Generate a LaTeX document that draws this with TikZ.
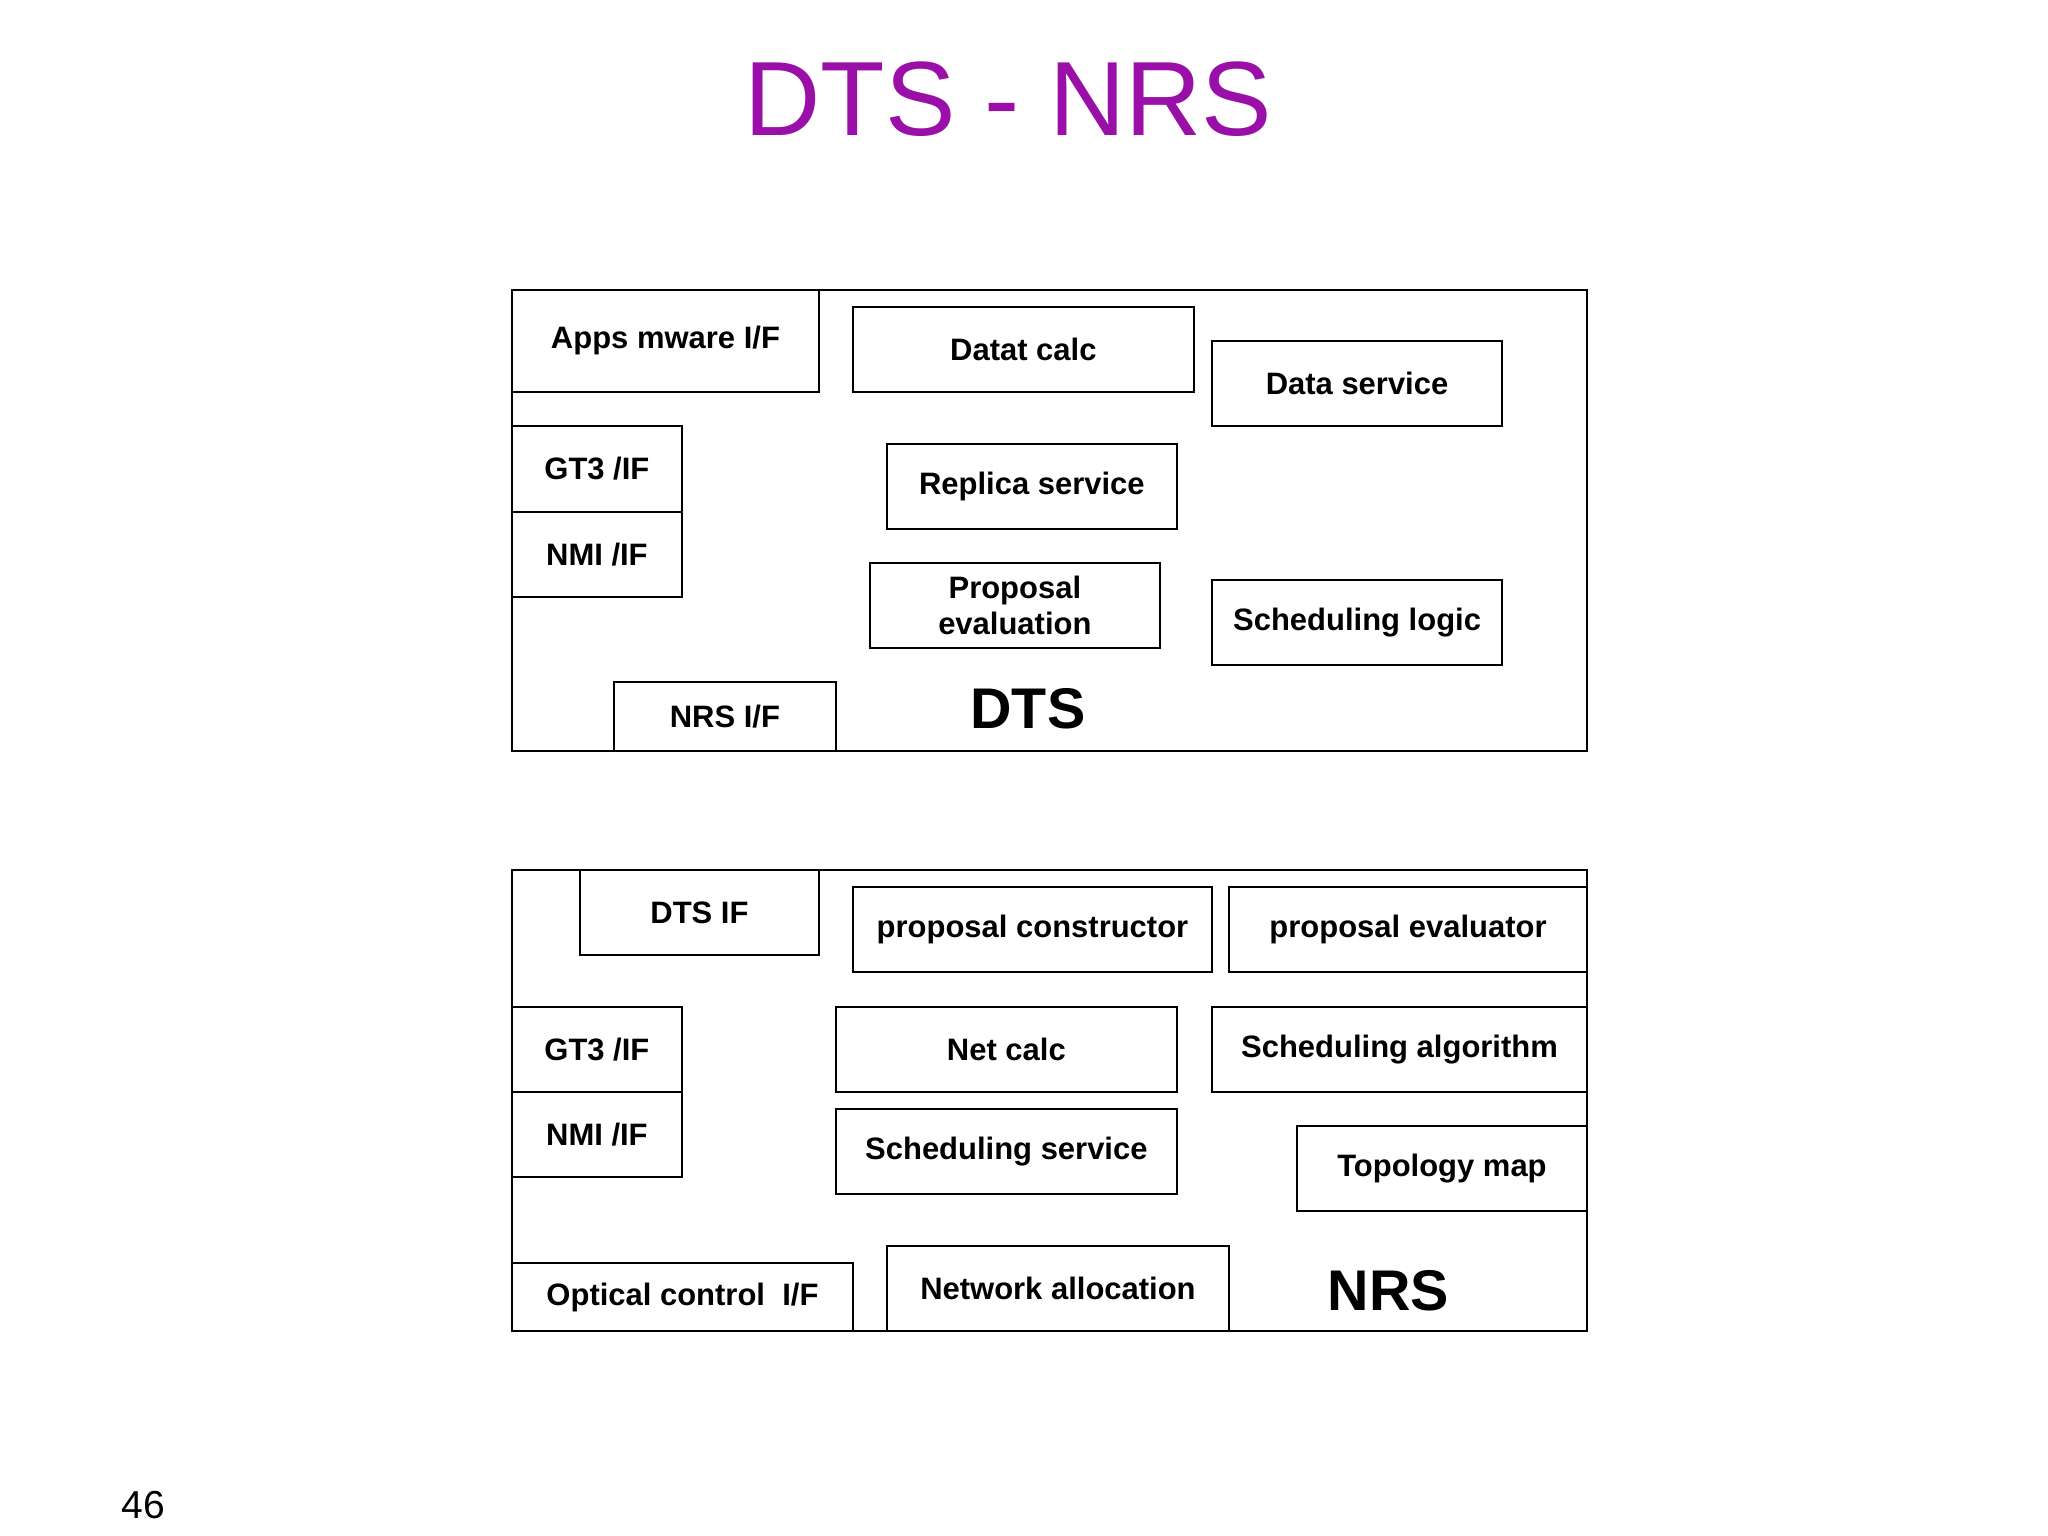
\documentclass[tikz,border=0pt]{standalone}
\usepackage{fontspec}
\setmainfont{Liberation Sans}
\newfontfamily\titlefont{Liberation Sans}
\definecolor{ttl}{HTML}{9A0FA8}
\tikzset{box/.style={draw,line width=0.9pt,inner sep=0pt,align=center,font=\fontsize{13.5}{16}\selectfont\bfseries},
 big/.style={font=\fontsize{25}{30}\selectfont\bfseries}}
\newcommand{\bx}[6]{\node[box,minimum width={(#4-#2)*0.02cm},minimum height={(#5-#3)*0.02cm}] (#1) at ({(#2+#4)/2},{(#3+#5)/2}) {#6};}
\begin{document}
\begin{tikzpicture}[x=0.02cm,y=-0.02cm]
\useasboundingbox (0,0) rectangle (1568,1176);
\node[text=ttl,font=\fontsize{46}{50}\selectfont] (title) at (772,76) {DTS - NRS};
\bx{dts}{392}{222}{1215}{575}{}
\bx{apps}{392}{222}{627}{300}{Apps mware I/F}
\bx{dcalc}{653}{235}{914}{300}{Datat calc}
\bx{dserv}{928}{261}{1150}{326}{Data service}
\bx{gta}{392}{326}{522}{392}{GT3 /IF}
\bx{nmia}{392}{392}{522}{457}{NMI /IF}
\bx{repl}{679}{340}{901}{405}{Replica service}
\bx{prop}{666}{431}{888}{496}{Proposal\\evaluation}
\bx{slog}{928}{444}{1150}{509}{Scheduling logic}
\bx{nrsif}{470}{522}{640}{575}{NRS I/F}
\node[big] (dtsl) at (787,543) {DTS};
\bx{nrs}{392}{666}{1215}{1019}{}
\bx{dtsif}{444}{666}{627}{731}{DTS IF}
\bx{pcon}{653}{679}{928}{744}{proposal constructor}
\bx{pev}{941}{679}{1215}{744}{proposal evaluator}
\bx{gtb}{392}{771}{522}{836}{GT3 /IF}
\bx{nmib}{392}{836}{522}{901}{NMI /IF}
\bx{ncalc}{640}{771}{901}{836}{Net calc}
\bx{salg}{928}{771}{1215}{836}{Scheduling algorithm}
\bx{sserv}{640}{849}{901}{914}{Scheduling service}
\bx{topo}{993}{862}{1215}{927}{Topology map}
\bx{opt}{392}{967}{653}{1019}{Optical control\ \ I/F}
\bx{nall}{679}{954}{941}{1019}{Network allocation}
\node[big] (nrsl) at (1063,988) {NRS};
\node[font=\fontsize{17}{20}\selectfont] (pg) at (110,1152) {46};
\end{tikzpicture}
\end{document}
